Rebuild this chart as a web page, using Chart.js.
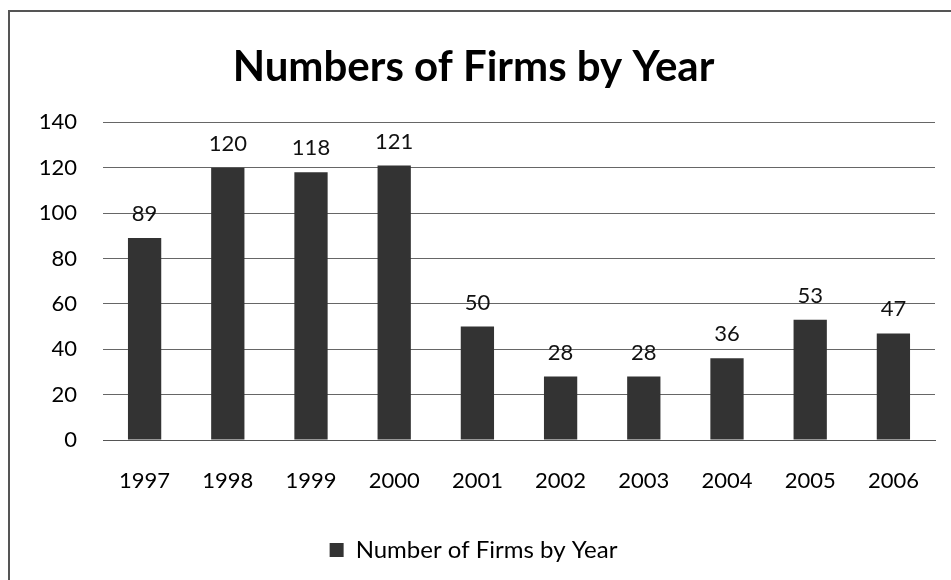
<!DOCTYPE html>
<html>
<head>
<meta charset="utf-8">
<script src="https://cdn.jsdelivr.net/npm/chart.js@4/dist/chart.umd.min.js"></script>
<style>
  html, body { margin: 0; padding: 0; background: #fff; }
  #frame {
    position: absolute; left: 8px; top: 10px; width: 960px; height: 600px;
    border-left: 2px solid #555; border-top: 2px solid #555;
  }
  #wrap { position: absolute; left: 10px; top: 12px; width: 941px; height: 568px; }
</style>
</head>
<body>
<div id="frame"></div>
<div id="wrap"><canvas id="chart"></canvas></div>
<script>
const years = ['1997', '1998', '1999', '2000', '2001', '2002', '2003', '2004', '2005', '2006'];
const firms = [89, 120, 118, 121, 50, 28, 28, 36, 53, 47];
const yTicks = [0, 20, 40, 60, 80, 100, 120, 140];

const FONT = 'Lato, "Open Sans", sans-serif';

// draws the value above each bar
const valueLabels = {
  id: 'valueLabels',
  afterDatasetsDraw(chart) {
    const ctx = chart.ctx;
    const meta = chart.getDatasetMeta(0);
    ctx.save();
    ctx.font = '22px ' + FONT;
    ctx.fillStyle = '#111';
    ctx.textAlign = 'center';
    ctx.textBaseline = 'middle';
    meta.data.forEach((bar, i) => {
      ctx.fillText(String(firms[i]), bar.x, bar.y - 24);
    });
    ctx.restore();
  }
};

new Chart(document.getElementById('chart'), {
  type: 'bar',
  data: {
    labels: years,
    datasets: [{
      label: 'Number of Firms by Year',
      data: firms,
      backgroundColor: '#333333',
      barPercentage: 0.8,
      categoryPercentage: 0.5
    }]
  },
  options: {
    responsive: true,
    maintainAspectRatio: false,
    animation: false,
    layout: { padding: { left: 2, right: 16, top: 0, bottom: 8 } },
    plugins: {
      title: {
        display: true,
        text: 'Numbers of Firms by Year',
        color: '#000',
        font: { family: FONT, size: 42, weight: 'bold' },
        padding: { top: 30, bottom: 30 }
      },
      legend: {
        position: 'bottom',
        labels: {
          color: '#000',
          font: { family: FONT, size: 24 },
          boxWidth: 14,
          boxHeight: 14,
          padding: 8
        }
      },
      tooltip: { enabled: false }
    },
    scales: {
      x: {
        grid: { display: false },
        border: { display: true, color: '#555' },
        ticks: { color: '#000', font: { family: FONT, size: 22 }, padding: 20 },
        afterFit(scale) { scale.height = 90; }
      },
      y: {
        min: 0,
        max: 140,
        afterBuildTicks(scale) { scale.ticks = yTicks.map(v => ({ value: v })); },
        grid: { color: '#666', drawTicks: false },
        border: { display: false },
        ticks: { color: '#000', font: { family: FONT, size: 22 }, padding: 26 },
        afterFit(scale) { scale.width = 91; }
      }
    }
  },
  plugins: [valueLabels]
});
</script>
</body>
</html>
